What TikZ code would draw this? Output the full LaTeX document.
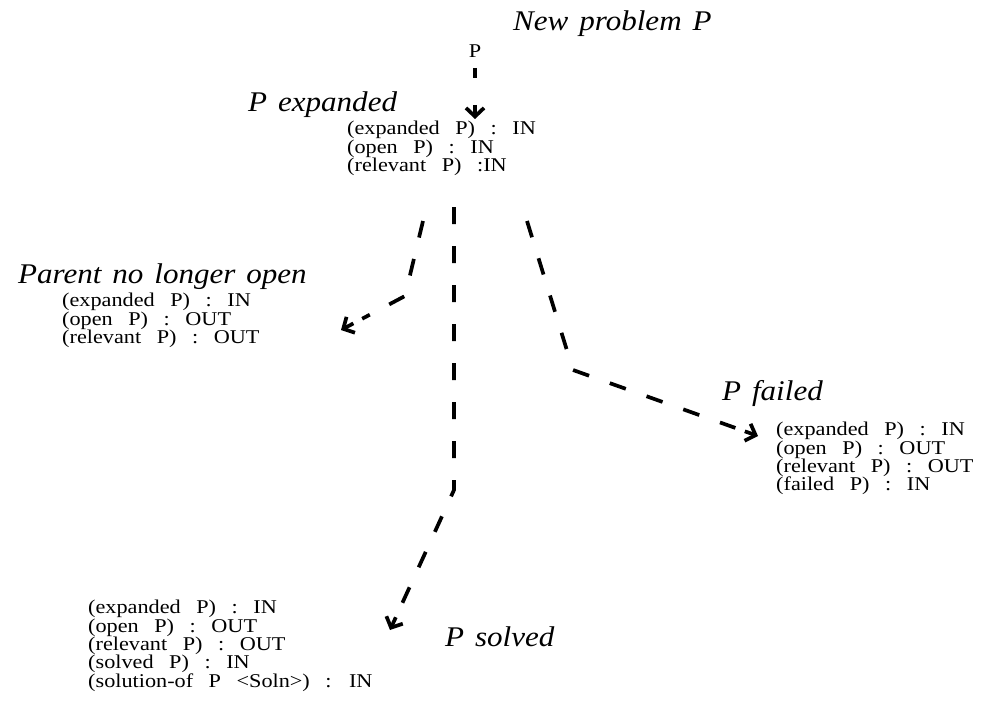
\documentclass[tikz,border=0pt]{standalone}
\usepackage{fontspec}
\setmainfont{Liberation Serif}
\newfontfamily\statefont[WordSpace=2.8,FakeStretch=1.14]{Liberation Serif}
\newfontfamily\captionfont[WordSpace=1.4,FakeStretch=1.09]{Liberation Serif}
\usetikzlibrary{arrows.meta,calc}

\tikzset{
  state/.style={anchor=north west, inner sep=0pt, align=left,
    font=\statefont\fontsize{19.5}{18.4}\selectfont},
  caption/.style={anchor=base west, inner sep=0pt,
    font=\captionfont\fontsize{28.5}{30}\selectfont\itshape},
  flowline/.style={line width=3.7pt, dash pattern=on 17pt off 22pt},
  flowtip/.style={line width=3.7pt, -{Straight Barb[length=8.5pt,width=18pt]}},
}

\begin{document}
\begin{tikzpicture}[x=1pt,y=-1pt]
\useasboundingbox (0,0) rectangle (987,714);

% captions
\node[caption] (cnew)    at (513,31)  {New problem P};
\node[caption] (cexp)    at (248,112) {P expanded};
\node[caption] (cparent) at (18,283)  {Parent no longer open};
\node[caption] (cfail)   at (722,400) {P failed};
\node[caption] (csolv)   at (445,646) {P solved};

% the new problem
\node[anchor=base, inner sep=0pt, font=\statefont\fontsize{19.5}{18}\selectfont] (p) at (475,58) {P};

% belief states
\node[state] (sexp) at (347,121) {(expanded P) : IN\\(open P) : IN\\(relevant P) :IN};
\node[state] (spar) at (62,293) {(expanded P) : IN\\(open P) : OUT\\(relevant P) : OUT};
\node[state] (sfail) at (776,422) {(expanded P) : IN\\(open P) : OUT\\(relevant P) : OUT\\(failed P) : IN};
\node[state] (ssolv) at (88,600) {(expanded P) : IN\\(open P) : OUT\\(relevant P) : OUT\\(solved P) : IN\\(solution-of P <Soln>) : IN};

% connector end points and bends
\coordinate (ptop)  at (475,68);
\coordinate (pend)  at (475,119);
\coordinate (lfrom) at (423,221);
\coordinate (lbend) at (405,296);
\coordinate (lto)   at (341,330);
\coordinate (mfrom) at (454,207);
\coordinate (mbend) at (454,490);
\coordinate (mto)   at (390,630);
\coordinate (rfrom) at (527,221);
\coordinate (rbend) at (573,370);
\coordinate (rto)   at (758,436);

% transitions: a dashed run, then a short solid stub carrying the head
\draw[flowline, dash pattern=on 10pt off 40pt] (ptop) -- ($(pend)!24pt!(ptop)$);
\draw[flowtip] ($(pend)!14pt!(ptop)$) -- (pend);

\draw[flowline] (lfrom) -- (lbend) -- ($(lto)!24pt!(lbend)$);
\draw[flowtip] ($(lto)!14pt!(lbend)$) -- (lto);

\draw[flowline] (mfrom) -- (mbend) -- ($(mto)!24pt!(mbend)$);
\draw[flowtip] ($(mto)!14pt!(mbend)$) -- (mto);

\draw[flowline] (rfrom) -- (rbend) -- ($(rto)!24pt!(rbend)$);
\draw[flowtip] ($(rto)!14pt!(rbend)$) -- (rto);
\end{tikzpicture}
\end{document}
